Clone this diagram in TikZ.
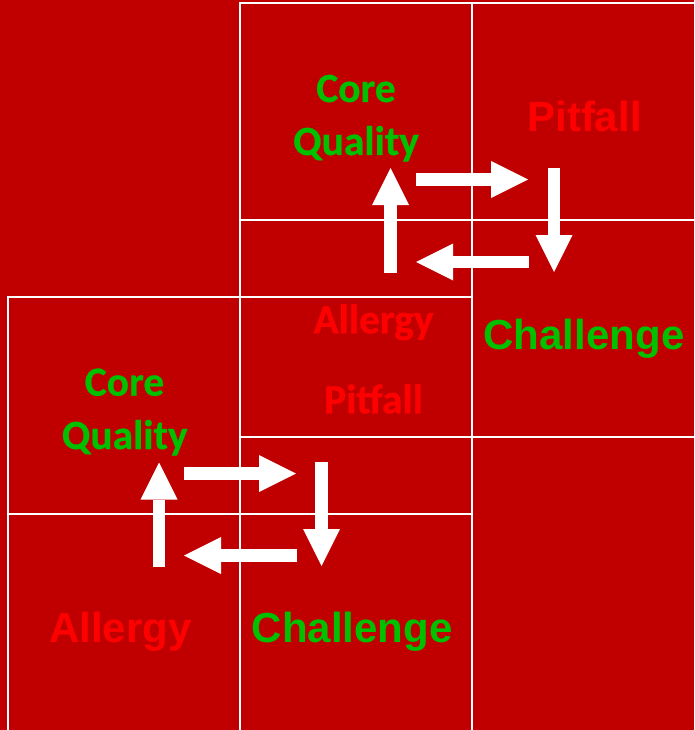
\documentclass[tikz,border=0pt]{standalone}
\usepackage{fontspec}
\setmainfont{Liberation Sans}
\newfontfamily\calibfont{Carlito}[BoldFont={Carlito Bold},BoldFeatures={FakeBold=0.6}]
\usetikzlibrary{arrows.meta}
\definecolor{bgred}{RGB}{192,0,0}
\definecolor{txtgreen}{RGB}{0,192,0}
\definecolor{txtred}{RGB}{255,0,0}
\begin{document}
\begin{tikzpicture}[x=1pt,y=-1pt,
  cell/.style={draw=white, line width=1.3pt},
  artxt/.style={font=\fontsize{42}{50}\selectfont\bfseries, anchor=base, inner sep=0pt},
  cbtxt/.style={font=\calibfont\fontsize{41.5}{50}\selectfont\bfseries, anchor=base, inner sep=0pt},
  blk/.style={draw=white, line width=12.5pt, -{Triangle[width=37pt,length=37pt,line width=0pt]}}
]
\useasboundingbox (0,0) rectangle (694,730);
\fill[bgred] (0,0) rectangle (694,730);
\clip (0,0) rectangle (694,730);
% top group cells
\draw[cell] (240,3) rectangle (472,220);
\draw[cell] (472,3) rectangle (704,220);
\draw[cell] (240,220) rectangle (472,437);
\draw[cell] (472,220) rectangle (704,437);
% lower group cells
\draw[cell] (8,297) rectangle (240,514);
\draw[cell] (240,297) rectangle (472,514);
\draw[cell] (8,514) rectangle (240,731);
\draw[cell] (240,514) rectangle (472,731);
% top group texts
\node[cbtxt, text=txtgreen] (core1) at (356,102) {Core};
\node[cbtxt, text=txtgreen] (qual1) at (356,155) {Quality};
\node[artxt, text=txtred] (pit1) at (584.5,131.7) {Pitfall};
\node[artxt, text=txtgreen] (chal1) at (584,349.3) {Challenge};
\node[cbtxt, text=txtred] (all1) at (373.5,333.3) {Allergy};
% lower group texts
\node[cbtxt, text=txtred] (pit2) at (373.5,413.3) {Pitfall};
\node[cbtxt, text=txtgreen] (core2) at (124.5,395.7) {Core};
\node[cbtxt, text=txtgreen] (qual2) at (124.7,449) {Quality};
\node[artxt, text=txtred] (all2) at (120.5,642.7) {Allergy};
\node[artxt, text=txtgreen] (chal2) at (352.2,642.7) {Challenge};
% top group arrow ends
\coordinate (t1a) at (416,179.5); \coordinate (t1b) at (528,179.5);
\coordinate (t2a) at (554,168);   \coordinate (t2b) at (554,272);
\coordinate (t3a) at (529,262);   \coordinate (t3b) at (416,262);
\coordinate (t4a) at (390.5,273); \coordinate (t4b) at (390.5,168);
% lower group arrow ends
\coordinate (b1a) at (184,473.5); \coordinate (b1b) at (296,473.5);
\coordinate (b2a) at (321.5,462); \coordinate (b2b) at (321.5,566);
\coordinate (b3a) at (297,555.5); \coordinate (b3b) at (184,555.5);
\coordinate (b4a) at (159,567);   \coordinate (b4b) at (159,462.5);
\draw[blk] (t1a) -- (t1b);
\draw[blk] (t2a) -- (t2b);
\draw[blk] (t3a) -- (t3b);
\draw[blk] (t4a) -- (t4b);
\draw[blk] (b1a) -- (b1b);
\draw[blk] (b2a) -- (b2b);
\draw[blk] (b3a) -- (b3b);
\draw[blk] (b4a) -- (b4b);
\end{tikzpicture}
\end{document}
